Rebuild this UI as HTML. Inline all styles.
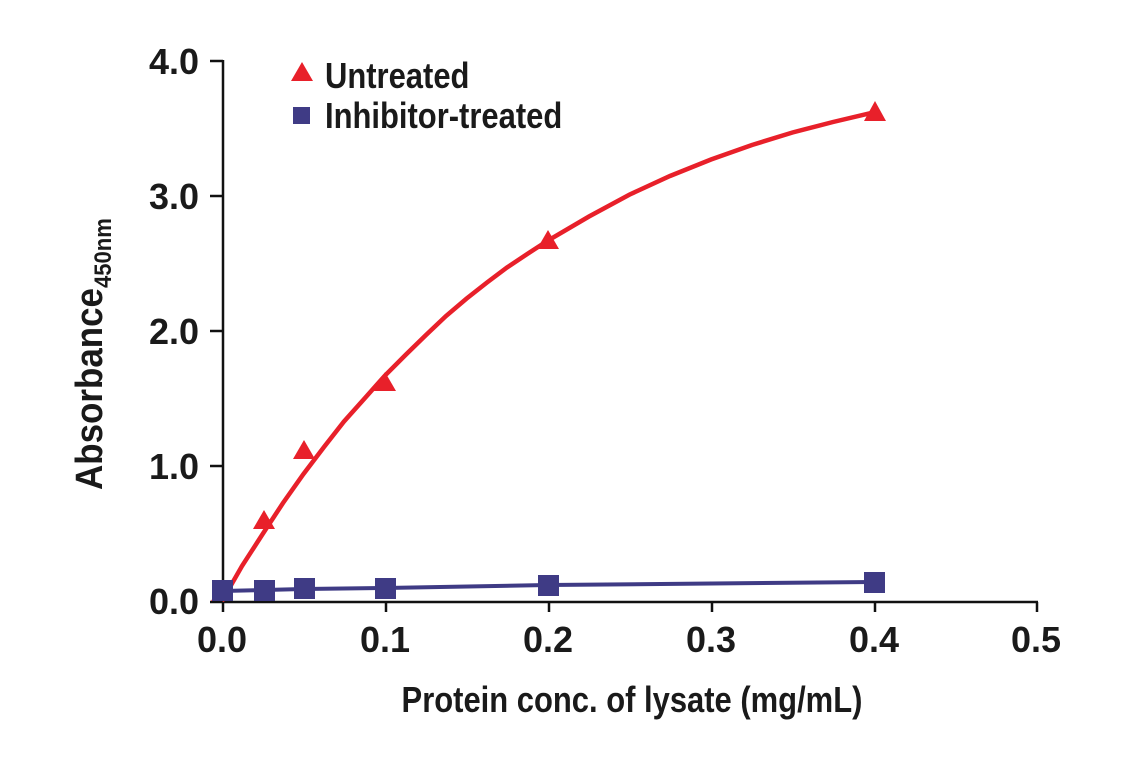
<!DOCTYPE html>
<html><head><meta charset="utf-8"><style>
body{margin:0;background:#fff;}
svg{display:block;font-family:"Liberation Sans Narrow","Liberation Sans",sans-serif;font-weight:bold;}
</style></head><body>
<svg width="1141" height="768" viewBox="0 0 1141 768" xmlns="http://www.w3.org/2000/svg">
<g stroke="#111" stroke-width="2.5" fill="none">
<line x1="223" y1="60" x2="223" y2="602"/>
<line x1="210" y1="602" x2="1038" y2="602"/>
<line x1="210" y1="61" x2="223" y2="61"/>
<line x1="210" y1="196" x2="223" y2="196"/>
<line x1="210" y1="331" x2="223" y2="331"/>
<line x1="210" y1="466" x2="223" y2="466"/>
<line x1="223" y1="602" x2="223" y2="612"/>
<line x1="386" y1="602" x2="386" y2="612"/>
<line x1="549" y1="602" x2="549" y2="612"/>
<line x1="712" y1="602" x2="712" y2="612"/>
<line x1="875" y1="602" x2="875" y2="612"/>
<line x1="1037" y1="602" x2="1037" y2="612"/>
</g>
<g font-size="36" fill="#1a1a1a" text-anchor="end">
<text x="199" y="74">4.0</text>
<text x="199" y="209">3.0</text>
<text x="199" y="344">2.0</text>
<text x="199" y="479">1.0</text>
<text x="199" y="614">0.0</text>
</g>
<g font-size="36" fill="#1a1a1a" text-anchor="middle">
<text x="222" y="652">0.0</text>
<text x="385" y="652">0.1</text>
<text x="548" y="652">0.2</text>
<text x="711" y="652">0.3</text>
<text x="874" y="652">0.4</text>
<text x="1036" y="652">0.5</text>
</g>
<text x="632" y="712" font-size="36" fill="#1a1a1a" text-anchor="middle" transform="translate(632,0) scale(0.86,1) translate(-632,0)">Protein conc. of lysate (mg/mL)</text>
<g transform="translate(102,490) rotate(-90) scale(0.92,1)">
<text x="0" y="0" font-size="38" fill="#1a1a1a">Absorbance<tspan font-size="24" dy="9">450nm</tspan></text>
</g>
<polyline fill="none" stroke="#3f3b85" stroke-width="4" points="222,591 264,590 304,589 385,588 548,585 874,582"/>
<polyline fill="none" stroke="#e8202a" stroke-width="4.5" points="222,601 242,566 263,533.5 283,503 303.5,474 324,447 344,421.5 365,398 385,375.5 406,354.5 426,335 446,316 466.5,298.6 487,282.5 507,267.5 528,253.5 548,240.5 589,216.5 629.5,194.6 670,176 711,159.5 752,145 792.5,132.5 833,122 874,112.3"/>
<g fill="#e8202a">
<polygon points="222,582 233,601 211,601"/>
<polygon points="264,510 275,529 253,529"/>
<polygon points="304,440 315,459 293,459"/>
<polygon points="385,372 396,391 374,391"/>
<polygon points="548,230 559,249 537,249"/>
<polygon points="875,101 886,121 864,121"/>
</g>
<g fill="#3f3b85">
<rect x="212" y="580" width="21" height="21"/>
<rect x="254" y="580" width="21" height="21"/>
<rect x="294" y="578" width="21" height="21"/>
<rect x="375" y="578" width="21" height="21"/>
<rect x="538" y="575" width="21" height="21"/>
<rect x="864" y="572" width="21" height="21"/>
</g>
<polygon points="302,62 313,81 291,81" fill="#e8202a"/>
<rect x="293" y="107" width="17" height="17" fill="#3f3b85"/>
<g font-size="36" fill="#1a1a1a" transform="translate(325,0) scale(0.86,1) translate(-325,0)">
<text x="325" y="88">Untreated</text>
<text x="325" y="128">Inhibitor-treated</text>
</g>
</svg>
</body></html>
